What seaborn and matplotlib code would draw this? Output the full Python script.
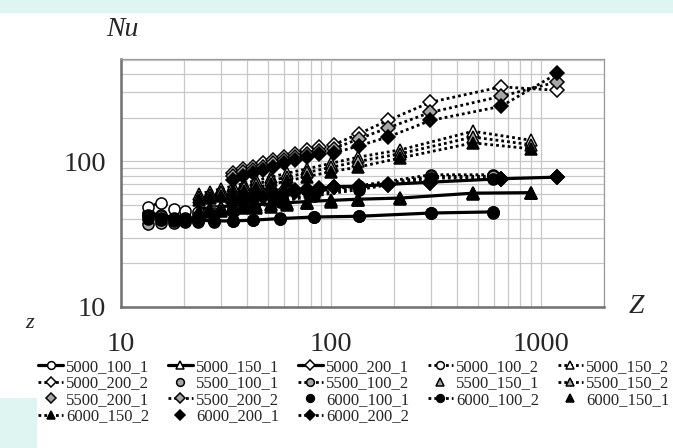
import matplotlib
matplotlib.use("Agg")
import matplotlib.pyplot as plt
import seaborn as sns
from matplotlib.ticker import LogLocator, NullFormatter, FixedLocator, FixedFormatter
from matplotlib.patches import Rectangle

# Graetz-type number Z for the three flow groups
z_100 = [13.5, 15.5, 17.8, 20.2, 23.3, 27.6, 34.3, 42.7, 57.3, 83, 136, 300, 590]
z_150 = [23.5, 26.5, 30, 34, 38.5, 44, 52, 62, 77, 100, 135, 214, 475, 902]
z_200 = [34, 38, 42.5, 47.5, 53, 59.5, 67.5, 77, 87.5, 103, 136, 187, 298, 647, 1200]

# Nusselt numbers per run
nu_5000_100_1 = [44, 43, 41, 40, 39.5, 39, 39, 39.5, 40.5, 41.5, 42, 44.2, 45]
nu_5000_150_1 = [47, 48, 49, 49.5, 50, 50.5, 51, 52, 53, 54, 55, 56, 60.5, 61]
nu_5000_200_1 = [55, 57, 58.5, 60, 61.5, 62.5, 63.5, 64.5, 65.5, 67, 67.5, 69.5, 72, 76, 78]
nu_5000_100_2 = [49, 52, 47, 45.5, 45, 46, 48, 51, 56, 62, 68, 81, 81]
nu_5000_150_2 = [60, 62, 65, 67.5, 70.5, 74, 78, 83, 89, 97, 107, 120, 161, 139.5]
nu_5000_200_2 = [83, 88, 92, 97, 102, 107, 113, 119, 125, 130, 155, 191, 255, 325, 308]
nu_5500_100_1 = [37, 38, 38, 38.5, 38.5, 38.5, 39, 39.5, 40.5, 41.5, 42, 44, 44.5]
nu_5500_100_2 = [43, 42, 41, 41, 42, 44, 46, 49, 54, 60, 66, 79, 79]
nu_5500_150_1 = [45.5, 46.5, 47.5, 48, 48.5, 49, 50, 51, 52, 53.5, 54.5, 55.8, 60.2, 60.8]
nu_5500_150_2 = [57, 59, 61.5, 64, 67, 70, 74, 78, 84, 91, 100, 113, 147, 130]
nu_5500_200_1 = [53.5, 55.5, 57, 58.5, 60, 61, 62.5, 64, 65, 66.8, 67.2, 69.2, 71.5, 75.8, 77.8]
nu_5500_200_2 = [79, 84, 87.5, 92, 97, 102, 107.5, 113, 118.5, 122, 143, 170, 217, 280, 352]
nu_6000_100_1 = [40, 39.5, 39, 39, 39, 39, 39, 39.5, 41, 41.8, 41.9, 44.2, 44.9]
nu_6000_100_2 = [42, 41, 40, 40, 41, 43, 45, 48, 53, 58, 64, 77, 76]
nu_6000_150_1 = [44, 45, 46, 47, 47.5, 48, 49, 50, 51.5, 53, 54.5, 55.6, 60, 60.6]
nu_6000_150_2 = [54, 56, 58, 60.5, 63, 66, 69.5, 73.5, 78.5, 85, 91.5, 105.5, 134, 122]
nu_6000_200_1 = [52, 54, 55.5, 57, 58.5, 60, 61.5, 63, 64.5, 66.7, 67, 69, 71, 75.7, 77.6]
nu_6000_200_2 = [75, 80, 83, 87, 92, 97, 102, 107, 112, 114, 128, 147, 191, 239, 402]

x_ticks = [10, 100, 1000]
x_tick_labels = ["10", "100", "1000"]
y_ticks = [10, 100]
y_tick_labels = ["10", "100"]

WHITE, GRAY, BLACK = "white", "#a6a6a6", "black"
SOLID, DOTTED, NONE = "solid", "dotted", "none"
MARK = {100: "o", 150: "^", 200: "D"}
ZS = {100: z_100, 150: z_150, 200: z_200}

series = [
    ("5000_100_1", 100, nu_5000_100_1, WHITE, SOLID),
    ("5000_150_1", 150, nu_5000_150_1, WHITE, SOLID),
    ("5000_200_1", 200, nu_5000_200_1, WHITE, SOLID),
    ("5000_100_2", 100, nu_5000_100_2, WHITE, DOTTED),
    ("5000_150_2", 150, nu_5000_150_2, WHITE, DOTTED),
    ("5000_200_2", 200, nu_5000_200_2, WHITE, DOTTED),
    ("5500_100_1", 100, nu_5500_100_1, GRAY, NONE),
    ("5500_100_2", 100, nu_5500_100_2, GRAY, DOTTED),
    ("5500_150_1", 150, nu_5500_150_1, GRAY, NONE),
    ("5500_150_2", 150, nu_5500_150_2, GRAY, DOTTED),
    ("5500_200_1", 200, nu_5500_200_1, GRAY, NONE),
    ("5500_200_2", 200, nu_5500_200_2, GRAY, DOTTED),
    ("6000_100_1", 100, nu_6000_100_1, BLACK, NONE),
    ("6000_100_2", 100, nu_6000_100_2, BLACK, DOTTED),
    ("6000_150_1", 150, nu_6000_150_1, BLACK, NONE),
    ("6000_150_2", 150, nu_6000_150_2, BLACK, DOTTED),
    ("6000_200_1", 200, nu_6000_200_1, BLACK, NONE),
    ("6000_200_2", 200, nu_6000_200_2, BLACK, DOTTED),
]

sns.set_style("white")
plt.rcParams["font.family"] = ["Liberation Serif", "DejaVu Serif"]

fig = plt.figure(figsize=(6.73, 4.48), dpi=100)
W, H = 673, 448
ax = fig.add_axes([121 / W, 1 - 307 / H, (604 - 121) / W, (307 - 59) / H])

for name, grp, nu, face, ls in series:
    size = {100: 8.0, 150: 8.5, 200: 7.2}[grp]
    kw = dict(color=BLACK, marker=MARK[grp], markersize=size,
              markerfacecolor=face, markeredgecolor=BLACK, markeredgewidth=1.1)
    if ls == SOLID:
        kw.update(linestyle="-", linewidth=2.3)
    elif ls == DOTTED:
        kw.update(linestyle=(0, (1, 1.1)), linewidth=2.0)
    else:
        kw.update(linestyle="none", linewidth=0)
    sns.lineplot(x=ZS[grp], y=nu, ax=ax, sort=False, estimator=None,
                 label=name, legend=False, **kw)

ax.set_xscale("log")
ax.set_yscale("log")
ax.set_xlim(10, 2000)
ax.set_ylim(10, 505)

ax.xaxis.set_major_locator(FixedLocator(x_ticks))
ax.xaxis.set_major_formatter(FixedFormatter(x_tick_labels))
ax.yaxis.set_major_locator(FixedLocator(y_ticks))
ax.yaxis.set_major_formatter(FixedFormatter(y_tick_labels))
ax.xaxis.set_minor_locator(LogLocator(base=10, subs=range(2, 10), numticks=20))
ax.yaxis.set_minor_locator(LogLocator(base=10, subs=range(2, 10), numticks=20))
ax.xaxis.set_minor_formatter(NullFormatter())
ax.yaxis.set_minor_formatter(NullFormatter())

ax.grid(True, which="both", color="#c8c8c8", linewidth=0.9)
ax.set_axisbelow(True)
for side in ["left", "bottom"]:
    ax.spines[side].set_color("#707070")
    ax.spines[side].set_linewidth(1.8)
for side in ["top", "right"]:
    ax.spines[side].set_color("#9a9a9a")
    ax.spines[side].set_linewidth(0.9)

ax.tick_params(axis="both", which="major", direction="in", length=7,
               width=1.0, color="#333333", labelsize=20.5)
ax.tick_params(axis="both", which="minor", direction="in", length=5,
               width=0.8, color="#333333")
ax.tick_params(axis="x", which="major", pad=18)
ax.tick_params(axis="y", which="major", pad=11)

fig.text(122 / W, 1 - 29 / H, "Nu", fontsize=20, style="italic",
         ha="center", va="center")
fig.text(636 / W, 1 - 306 / H, "Z", fontsize=20, style="italic",
         ha="center", va="center")
fig.text(30 / W, 1 - 324 / H, "z", fontsize=16, style="italic",
         ha="center", va="center")

handles, labels = ax.get_legend_handles_labels()
ncol = 5
order = [r * ncol + c for c in range(ncol) for r in range(4) if r * ncol + c < len(handles)]
fig.legend([handles[i] for i in order], [labels[i] for i in order],
           ncol=ncol, loc="upper left", bbox_to_anchor=(38 / W, 1 - 359 / H),
           frameon=False, fontsize=12, handlelength=1.5, handletextpad=0.2,
           columnspacing=1.1, labelspacing=0.03, markerscale=0.7,
           borderpad=0, borderaxespad=0)

fig.patches.append(Rectangle((0, 1 - 13 / H), 1, 13 / H, transform=fig.transFigure,
                             facecolor="#dff5f2", edgecolor="none", zorder=-1))
fig.patches.append(Rectangle((0, 0), 37 / W, 50 / H, transform=fig.transFigure,
                             facecolor="#dff5f2", edgecolor="none", zorder=-1))

fig.savefig("out.png", dpi=100)
